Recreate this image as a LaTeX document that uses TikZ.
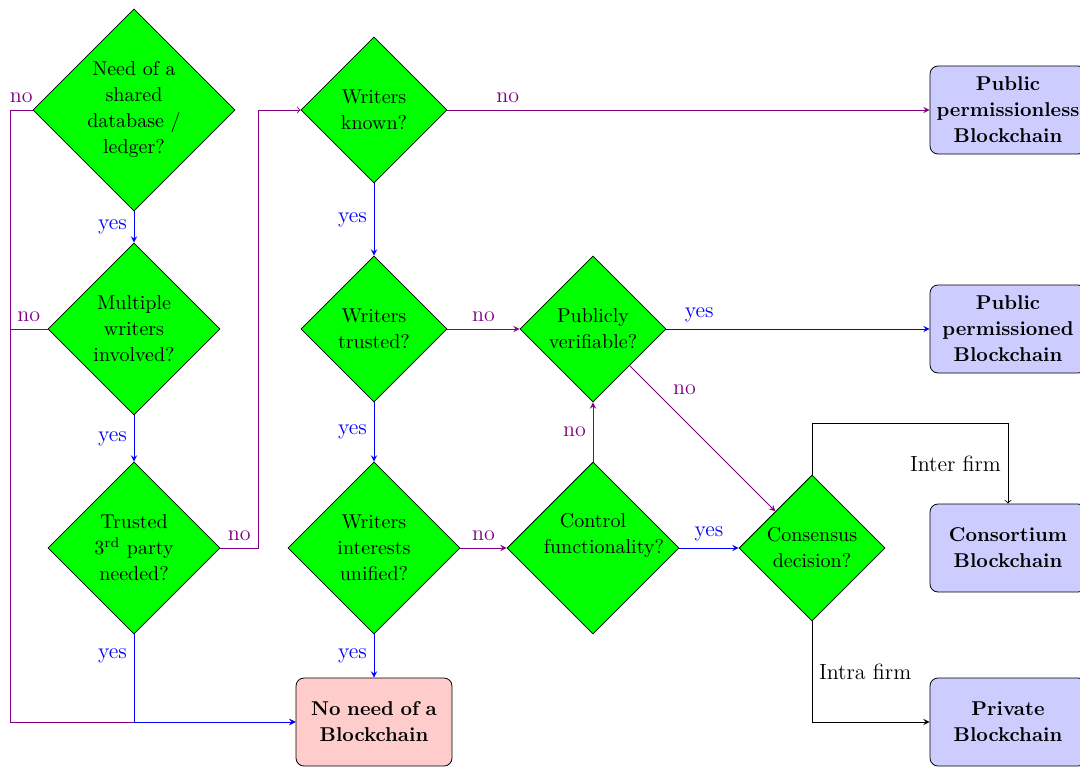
\documentclass[tikz,border=0pt]{standalone}
\usetikzlibrary{positioning,shapes.geometric}

\begin{document}
\begin{tikzpicture}[node distance=109.5pt, on grid, font=\fontsize{11}{13}\selectfont, q/.style={diamond, draw, fill=green, inner sep=1pt, align=center, minimum size=73pt, font=\fontsize{10}{13}\selectfont}, r/.style={rectangle, rounded corners, draw, fill=blue!20, text width=72pt, inner sep=3pt, minimum height=44pt, align=center, font=\fontsize{10}{13}\selectfont\bfseries}, yl/.style={blue, -stealth}, nl/.style={violet, -stealth}]
		\useasboundingbox (-67pt,55pt) rectangle (473pt,-328pt);
		\node[q, minimum size=101pt] (shared) {Need of a\\shared\\database /\\ledger?};
		\node[q, minimum size=86pt, below=of shared] (writers) {Multiple\\writers\\involved?};
		\node[q, minimum size=86pt, below=of writers] (third) {Trusted\\3\textsuperscript{rd} party\\needed?};
		\node[q, right=120pt of shared] (known) {Writers\\known?};
		\node[q, below=of known] (trusted) {Writers\\trusted?};
		\node[q, minimum size=86pt, below=of trusted] (unified) {Writers\\interests\\unified?};
		\node[q, right=of trusted] (verif) {Publicly\\verifiable?};
		\node[q, minimum size=86pt, right=of unified] (control) {\raisebox{4pt}[0pt][0pt]{\begin{tabular}{@{}c@{}}Control\\\hspace*{11pt}functionality?\end{tabular}}};
		\node[q, right=of control] (consensus) {Consensus\\decision?};
		\node[r, right=98pt of consensus] (consortium) {Consortium\\Blockchain};
		\node[r, above=of consortium] (permissioned) {Public\\permissioned\\Blockchain};
		\node[r, above=of permissioned] (permissionless) {Public\\permissionless\\Blockchain};
		\node[r, below=87pt of consortium] (private) {Private\\Blockchain};
		\node[r, fill=red!20, below=87pt of unified] (none) {No need of a\\Blockchain};
		\coordinate[left=62pt of shared] (busl);
		\coordinate[right=62pt of shared] (busr);
		\coordinate[above=25.5pt of consensus.north] (top);

		\draw[yl] (shared) -- node[left] {yes} (writers);
		\draw[yl] (writers) -- node[left] {yes} (third);
		\draw[nl] (shared) -- node[above] {no} (shared -| busl) |- (none);
		\draw[nl, -] (writers) -- node[above] {no} (writers -| busl);
		\draw[yl] (third) |- node[left, very near start] {yes} (none);
		\draw[nl, ->] (third) -- node[above] {no} (third -| busr) |- (known);
		\draw[yl] (known) -- node[left] {yes} (trusted);
		\draw[nl] (known) -- node[above, very near start] {no} (permissionless);
		\draw[yl] (trusted) -- node[left] {yes} (unified);
		\draw[nl] (trusted) -- node[above] {no} (verif);
		\draw[yl] (unified) -- node[left] {yes} (none);
		\draw[nl] (unified) -- node[above] {no} (control);
		\draw[yl] (verif) -- node[above, very near start] {yes} (permissioned);
		\draw[nl] (verif) -- node[above right, near start] {no} (consensus);
		\draw[nl] (control) -- node[left] {no} (verif);
		\draw[yl] (control) -- node[above] {yes} (consensus);
		\draw[->] (consensus) -- (top) -| node[left, pos=0.75] {Inter firm} (consortium);
		\draw[-stealth] (consensus) |- node[right, pos=0.25] {Intra firm} (private);
	\end{tikzpicture}
\end{document}
